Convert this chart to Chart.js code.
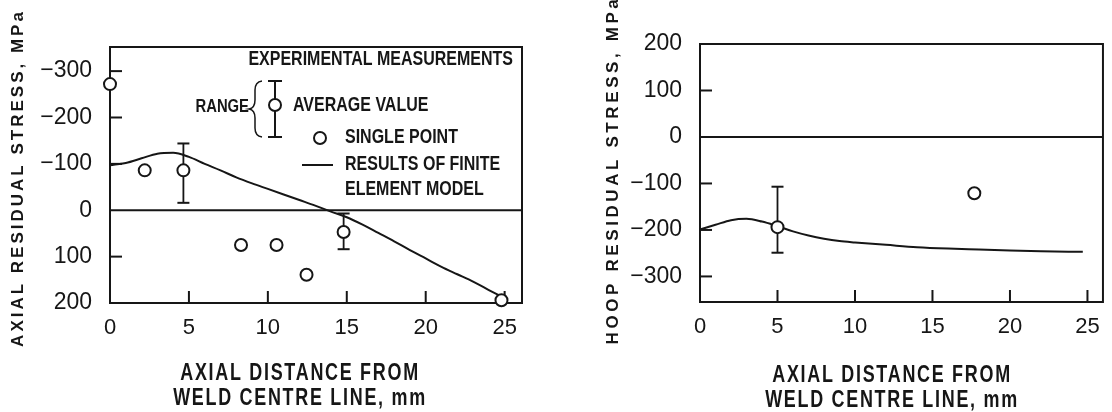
<!DOCTYPE html>
<html>
<head>
<meta charset="utf-8">
<script src="https://cdn.jsdelivr.net/npm/chart.js@4.4.1/dist/chart.umd.min.js"></script>
<style>
  html, body { margin: 0; padding: 0; background: #fff; }
  #wrap { position: relative; width: 1112px; height: 412px; overflow: hidden; }
  canvas { position: absolute; top: 0; }
  #axial { left: 0; }
  #hoop { left: 556px; }
</style>
</head>
<body>
<div id="wrap">
  <canvas id="axial" width="556" height="412"></canvas>
  <canvas id="hoop" width="556" height="412"></canvas>
</div>
<script>
(function () {
  "use strict";

  // shared x axis
  const xTicks = [0, 5, 10, 15, 20, 25];

  // axial stress (left)
  const axialYTicks = [-300, -200, -100, 0, 100, 200];
  const axialFemX = [0, 1, 2, 3, 4, 5, 6, 7, 8, 9, 10, 11, 12, 13, 14, 15, 16, 17, 18, 19, 20, 21, 22, 23, 24, 25];
  const axialFemY = [-97, -102, -112, -122, -124, -115, -100, -86, -71, -58, -46, -34, -22, -10, 3, 15, 31, 49, 67, 86, 104, 122, 138, 154, 172, 190];
  const axialSingleX = [0, 2.2, 8.3, 10.55, 12.45, 24.8];
  const axialSingleY = [-272, -86, 75, 75, 139, 194];
  const axialAvgX = [4.65, 14.8];
  const axialAvgY = [-86, 47];
  const axialRangeLow = [-144, 7];
  const axialRangeHigh = [-16, 84];

  // hoop stress (right)
  const hoopYTicks = [200, 100, 0, -100, -200, -300];
  const hoopFemX = [0, 1, 2, 3, 4, 5, 6, 7, 8, 9, 10, 12, 14, 16, 18, 20, 22, 24.7];
  const hoopFemY = [-199, -189, -179, -176, -182, -192, -203, -212, -219, -224, -227, -232, -237, -240, -242, -244, -246, -247];
  const hoopSingleX = [17.7];
  const hoopSingleY = [-121];
  const hoopAvgX = [5];
  const hoopAvgY = [-194];
  const hoopRangeLow = [-249];
  const hoopRangeHigh = [-107];

  const INK = '#161616';
  const SANS = "'Liberation Sans', Arial, sans-serif";

  const fmt = v => v < 0 ? '\u2212' + Math.abs(v) : String(v);
  const zip = (xs, ys) => xs.map((x, i) => ({x: x, y: ys[i]}));

  // bold text squeezed horizontally, with letter spacing
  function label(ctx, text, x, y, size, spacing, sx, align, rot) {
    ctx.save();
    ctx.translate(x, y);
    if (rot) ctx.rotate(rot);
    ctx.scale(sx, 1);
    ctx.font = 'bold ' + size + 'px ' + SANS;
    ctx.textAlign = align;
    ctx.textBaseline = 'middle';
    if ('letterSpacing' in ctx) ctx.letterSpacing = spacing + 'px';
    ctx.fillText(text, 0, 0);
    ctx.restore();
  }

  function seg(ctx, x1, y1, x2, y2) {
    ctx.beginPath();
    ctx.moveTo(x1, y1);
    ctx.lineTo(x2, y2);
    ctx.stroke();
  }

  const decor = {
    id: 'decor',
    beforeDatasetsDraw(chart, args, o) {
      const ctx = chart.ctx, a = chart.chartArea;
      const x = chart.scales.x, y = chart.scales.y;
      ctx.save();
      ctx.strokeStyle = INK;
      ctx.lineWidth = 2;
      ctx.strokeRect(a.left, a.top, a.right - a.left, a.bottom - a.top);
      const y0 = y.getPixelForValue(0);
      seg(ctx, a.left, y0, a.right, y0);
      o.yMarks.forEach(v => {
        const p = y.getPixelForValue(v);
        seg(ctx, a.left, p, a.left + 12, p);
      });
      o.xMarks.forEach(v => {
        const p = x.getPixelForValue(v);
        seg(ctx, p, a.bottom, p, a.bottom - 12);
      });
      ctx.restore();
    },
    afterDraw(chart, args, o) {
      const ctx = chart.ctx;
      ctx.save();
      ctx.fillStyle = INK;
      ctx.strokeStyle = INK;

      label(ctx, o.yTitle.text, o.yTitle.x, o.yTitle.y, 17, o.yTitle.spacing, 1, 'center', -Math.PI / 2);
      o.xTitle.lines.forEach((t, i) =>
        label(ctx, t, o.xTitle.x, o.xTitle.y + i * 25, 23, 2.2, 0.78, 'center', 0));

      if (o.legend) {
        label(ctx, 'EXPERIMENTAL MEASUREMENTS', 513, 59, 20, 0, 0.8, 'right', 0);
        label(ctx, 'RANGE', 249, 107, 19, 0, 0.78, 'right', 0);

        // brace
        ctx.lineWidth = 1.5;
        ctx.beginPath();
        ctx.moveTo(262, 81);
        ctx.quadraticCurveTo(255, 82, 255, 90);
        ctx.lineTo(255, 100);
        ctx.quadraticCurveTo(255, 108, 249, 109);
        ctx.quadraticCurveTo(255, 110, 255, 118);
        ctx.lineTo(255, 128);
        ctx.quadraticCurveTo(255, 136, 262, 137);
        ctx.stroke();

        // range symbol
        ctx.lineWidth = 2;
        seg(ctx, 275, 81, 275, 137);
        seg(ctx, 268, 81, 282, 81);
        seg(ctx, 268, 137, 282, 137);
        ctx.fillStyle = '#fff';
        ctx.beginPath();
        ctx.arc(275, 105, 6, 0, Math.PI * 2);
        ctx.fill();
        ctx.stroke();
        ctx.beginPath();
        ctx.arc(320, 138, 6, 0, Math.PI * 2);
        ctx.fill();
        ctx.stroke();
        seg(ctx, 302, 165, 333, 165);

        ctx.fillStyle = INK;
        label(ctx, 'AVERAGE VALUE', 293, 105, 20, 0, 0.8, 'left', 0);
        label(ctx, 'SINGLE POINT', 345, 137, 20, 0, 0.8, 'left', 0);
        label(ctx, 'RESULTS OF FINITE', 345, 164, 20, 0, 0.8, 'left', 0);
        label(ctx, 'ELEMENT MODEL', 345, 189, 20, 0, 0.8, 'left', 0);
      }
      ctx.restore();
    }
  };

  function makeChart(id, c) {
    const datasets = [
      {
        data: zip(c.singleX, c.singleY),
        showLine: false,
        pointRadius: 6,
        pointBorderWidth: 2,
        pointBackgroundColor: '#fff',
        pointBorderColor: INK,
        clip: false
      },
      {
        data: zip(c.avgX, c.avgY),
        showLine: false,
        pointRadius: 6,
        pointBorderWidth: 2,
        pointBackgroundColor: '#fff',
        pointBorderColor: INK,
        clip: false
      },
      {
        data: zip(c.femX, c.femY),
        showLine: true,
        pointRadius: 0,
        borderColor: INK,
        borderWidth: 2,
        cubicInterpolationMode: 'monotone',
        clip: false
      }
    ];
    c.avgX.forEach((x, i) => {
      datasets.push({
        data: [{x: x, y: c.low[i]}, {x: x, y: c.high[i]}],
        showLine: true,
        borderColor: INK,
        borderWidth: 1.8,
        pointStyle: 'line',
        pointRadius: 6,
        pointBorderWidth: 2,
        pointBorderColor: INK,
        clip: false
      });
    });

    return new Chart(document.getElementById(id), {
      type: 'scatter',
      data: {datasets: datasets},
      plugins: [decor],
      options: {
        responsive: false,
        animation: false,
        events: [],
        layout: {padding: {top: c.area.top, right: 556 - c.area.right, left: 0, bottom: 0}},
        scales: {
          x: {
            type: 'linear',
            min: c.xMin,
            max: c.xMax,
            afterBuildTicks: s => { s.ticks = xTicks.map(v => ({value: v})); },
            afterFit: s => { s.height = 412 - c.area.bottom; },
            grid: {display: false, drawTicks: false},
            border: {display: false},
            ticks: {
              font: {family: SANS, size: 22},
              color: INK,
              padding: 12,
              maxRotation: 0,
              autoSkip: false,
              callback: v => fmt(v)
            }
          },
          y: {
            type: 'linear',
            reverse: c.reverse,
            min: c.yMin,
            max: c.yMax,
            afterBuildTicks: s => { s.ticks = c.yTicks.map(v => ({value: v})); },
            afterFit: s => { s.width = c.area.left; },
            grid: {display: false, drawTicks: false},
            border: {display: false},
            ticks: {
              font: {family: SANS, size: 23},
              color: INK,
              padding: 18,
              autoSkip: false,
              callback: v => fmt(v)
            }
          }
        },
        plugins: {
          legend: {display: false},
          tooltip: {enabled: false},
          decor: {
            yMarks: c.yMarks,
            xMarks: [5, 10, 15, 20, 25],
            yTitle: c.yTitle,
            xTitle: c.xTitle,
            legend: c.legend
          }
        }
      }
    });
  }

  makeChart('axial', {
    area: {left: 110, right: 522, top: 47, bottom: 303},
    xMin: 0, xMax: 26.1,
    yMin: -352, yMax: 200, reverse: true,
    yTicks: axialYTicks,
    yMarks: [-300, -200, -100, 100],
    femX: axialFemX, femY: axialFemY,
    singleX: axialSingleX, singleY: axialSingleY,
    avgX: axialAvgX, avgY: axialAvgY,
    low: axialRangeLow, high: axialRangeHigh,
    yTitle: {text: 'AXIAL RESIDUAL STRESS, MPa', x: 18, y: 178, spacing: 3},
    xTitle: {lines: ['AXIAL DISTANCE FROM', 'WELD CENTRE LINE, mm'], x: 300, y: 374},
    legend: true
  });

  makeChart('hoop', {
    area: {left: 144, right: 555, top: 44, bottom: 302},
    xMin: 0, xMax: 26,
    yMin: -355, yMax: 200, reverse: false,
    yTicks: hoopYTicks,
    yMarks: [100, -100, -200, -300],
    femX: hoopFemX, femY: hoopFemY,
    singleX: hoopSingleX, singleY: hoopSingleY,
    avgX: hoopAvgX, avgY: hoopAvgY,
    low: hoopRangeLow, high: hoopRangeHigh,
    yTitle: {text: 'HOOP RESIDUAL STRESS, MPa', x: 57, y: 170, spacing: 3.6},
    xTitle: {lines: ['AXIAL DISTANCE FROM', 'WELD CENTRE LINE, mm'], x: 336, y: 376},
    legend: false
  });
})();
</script>
</body>
</html>
